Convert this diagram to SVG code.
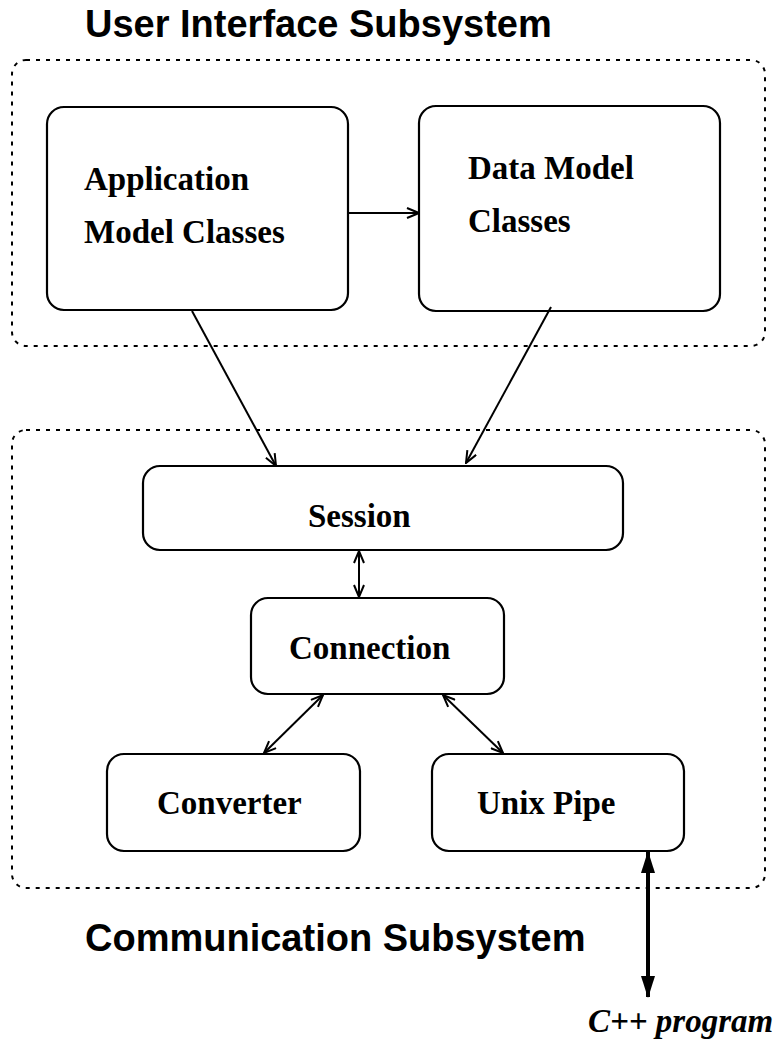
<svg xmlns="http://www.w3.org/2000/svg" width="777" height="1042" viewBox="0 0 777 1042">
<defs>
<marker id="open" viewBox="0 0 14 12" refX="13" refY="6" markerWidth="14" markerHeight="12" markerUnits="userSpaceOnUse" orient="auto-start-reverse">
<path d="M1,1 L13,6 L1,11" fill="none" stroke="#000" stroke-width="2"/>
</marker>
<marker id="solid" viewBox="0 0 22 14" refX="21" refY="7" markerWidth="22" markerHeight="14" markerUnits="userSpaceOnUse" orient="auto-start-reverse">
<path d="M0,0 L22,7 L0,14 Z" fill="#000"/>
</marker>
</defs>
<style>
.box{fill:#fff;stroke:#000;stroke-width:2.2}
.cont{fill:none;stroke:#000;stroke-width:2;stroke-dasharray:4 6}
.lbl{font-family:"Liberation Serif","Times New Roman",serif;font-weight:bold;font-size:33px;fill:#000}
.title{font-family:"Liberation Sans",Arial,sans-serif;font-weight:bold;font-size:38px;fill:#000}
.ln{fill:none;stroke:#000;stroke-width:2}
</style>
<rect width="777" height="1042" fill="#fff"/>
<g id="ui-subsystem">
<rect class="cont" x="12" y="60" width="753" height="286" rx="14"/>
<text class="title" x="85" y="37">User Interface Subsystem</text>
</g>
<g id="comm-subsystem">
<rect class="cont" x="12" y="430" width="753" height="458" rx="14"/>
<text class="title" x="85" y="951">Communication Subsystem</text>
</g>
<g id="app-model">
<rect class="box" x="47" y="107" width="301" height="203" rx="17"/>
<text class="lbl" x="84" y="190">Application</text>
<text class="lbl" x="84" y="243">Model Classes</text>
</g>
<g id="data-model">
<rect class="box" x="419" y="106" width="301" height="205" rx="17"/>
<text class="lbl" x="468" y="179">Data Model</text>
<text class="lbl" x="468" y="232">Classes</text>
</g>
<g id="session">
<rect class="box" x="143" y="466" width="480" height="84" rx="17"/>
<text class="lbl" x="308" y="527">Session</text>
</g>
<g id="connection">
<rect class="box" x="251" y="598" width="253" height="96" rx="17"/>
<text class="lbl" x="289" y="659">Connection</text>
</g>
<g id="converter">
<rect class="box" x="107" y="754" width="253" height="97" rx="17"/>
<text class="lbl" x="157" y="814">Converter</text>
</g>
<g id="unix-pipe">
<rect class="box" x="432" y="754" width="252" height="97" rx="17"/>
<text class="lbl" x="477" y="814">Unix Pipe</text>
</g>
<g id="cpp-program">
<text class="lbl" x="588" y="1032" font-style="italic">C++ program</text>
</g>
<g id="connectors">
<line class="ln" x1="348" y1="213" x2="419" y2="213" marker-end="url(#open)"/>
<line class="ln" x1="192" y1="311" x2="276" y2="466" marker-end="url(#open)"/>
<line class="ln" x1="551" y1="307" x2="466" y2="463" marker-end="url(#open)"/>
<line class="ln" x1="359" y1="551" x2="359" y2="597" marker-start="url(#open)" marker-end="url(#open)"/>
<line class="ln" x1="323" y1="695" x2="264" y2="753" marker-start="url(#open)" marker-end="url(#open)"/>
<line class="ln" x1="443" y1="695" x2="503" y2="753" marker-start="url(#open)" marker-end="url(#open)"/>
<line x1="648" y1="852" x2="648" y2="997" stroke="#000" stroke-width="4" marker-start="url(#solid)" marker-end="url(#solid)"/>
</g>
</svg>
